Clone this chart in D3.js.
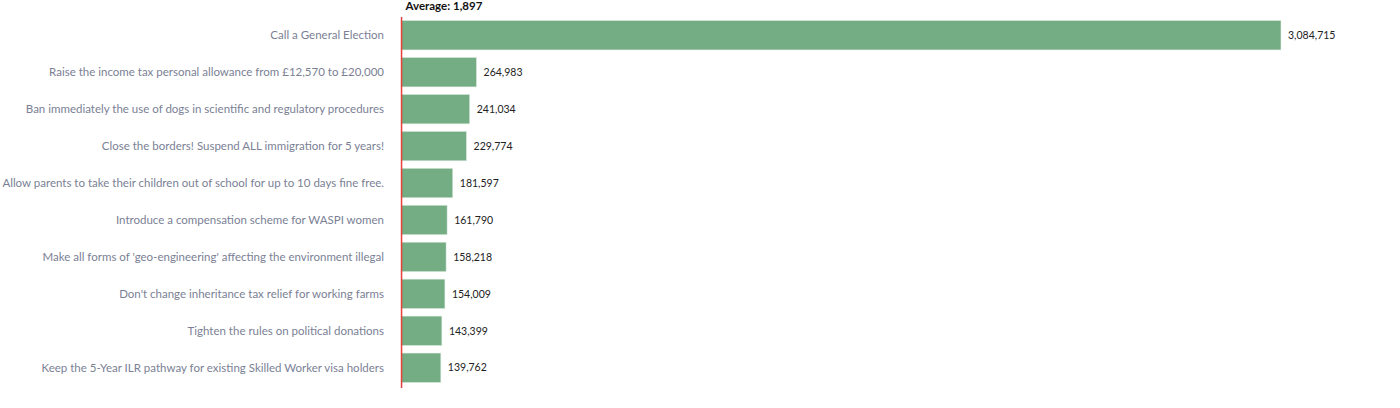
<!DOCTYPE html>
<html>
<head>
<meta charset="utf-8">
<script src="https://cdn.jsdelivr.net/npm/d3@7"></script>
<style>
  body { margin: 0; background: #fff; }
  svg text { font-family: "Source Sans Pro", Lato, "Open Sans", sans-serif; }
  .cat-label { fill: #7b7f95; font-size: 11.5px; }
  .val-label { fill: #222; font-size: 10.5px; }
  .avg-label { fill: #111; font-size: 11.5px; font-weight: bold; }
</style>
</head>
<body>
<div id="chart"></div>
<script>
// petitions and their signature counts
const petitions = [
    "Call a General Election",
    "Raise the income tax personal allowance from £12,570 to £20,000",
    "Ban immediately the use of dogs in scientific and regulatory procedures",
    "Close the borders! Suspend ALL immigration for 5 years!",
    "Allow parents to take their children out of school for up to 10 days fine free.",
    "Introduce a compensation scheme for WASPI women",
    "Make all forms of 'geo-engineering' affecting the environment illegal",
    "Don't change inheritance tax relief for working farms",
    "Tighten the rules on political donations",
    "Keep the 5-Year ILR pathway for existing Skilled Worker visa holders"
];
const signatures = [3084715, 264983, 241034, 229774, 181597, 161790, 158218, 154009, 143399, 139762];
const average = 1897;

const width = 1400, height = 408;
const margin = { top: 13, right: 119, bottom: 18, left: 401 };

const data = petitions.map((p, i) => ({ name: p, value: signatures[i] }));

const svg = d3.select("#chart").append("svg")
    .attr("width", width)
    .attr("height", height);

const x = d3.scaleLinear()
    .domain([0, d3.max(signatures)])
    .range([margin.left, width - margin.right]);

const y = d3.scaleBand()
    .domain(petitions)
    .range([margin.top, height - margin.bottom])
    .padding(0.2);

// bars
svg.selectAll(".bar")
    .data(data)
    .enter().append("rect")
    .attr("class", "bar")
    .attr("x", x(0))
    .attr("y", d => y(d.name))
    .attr("width", d => x(d.value) - x(0))
    .attr("height", y.bandwidth())
    .attr("fill", "#74ac84")
    .attr("stroke", "#e6f0e8")
    .attr("stroke-width", 0.6);

// value labels
svg.selectAll(".val-label")
    .data(data)
    .enter().append("text")
    .attr("class", "val-label")
    .attr("x", d => x(d.value) + 7)
    .attr("y", d => y(d.name) + y.bandwidth() / 2)
    .attr("dy", "0.35em")
    .text(d => d3.format(",")(d.value));

// category labels, squeezed if a long one would run off the left edge
const labelRight = x(0) - 17;
svg.selectAll(".cat-label")
    .data(data)
    .enter().append("text")
    .attr("class", "cat-label")
    .attr("x", labelRight)
    .attr("y", d => y(d.name) + y.bandwidth() / 2)
    .attr("dy", "0.35em")
    .attr("text-anchor", "end")
    .text(d => d.name)
    .each(function () {
        if (this.getComputedTextLength() > labelRight - 1) {
            d3.select(this)
                .attr("textLength", labelRight - 1)
                .attr("lengthAdjust", "spacingAndGlyphs");
        }
    });

// average line
svg.append("line")
    .attr("x1", x(average))
    .attr("x2", x(average))
    .attr("y1", 17)
    .attr("y2", height - 20)
    .attr("stroke", "#e8403a")
    .attr("stroke-width", 1.5);

svg.append("text")
    .attr("class", "avg-label")
    .attr("x", x(average) + 4)
    .attr("y", 10)
    .text("Average: " + d3.format(",")(average));
</script>
</body>
</html>
